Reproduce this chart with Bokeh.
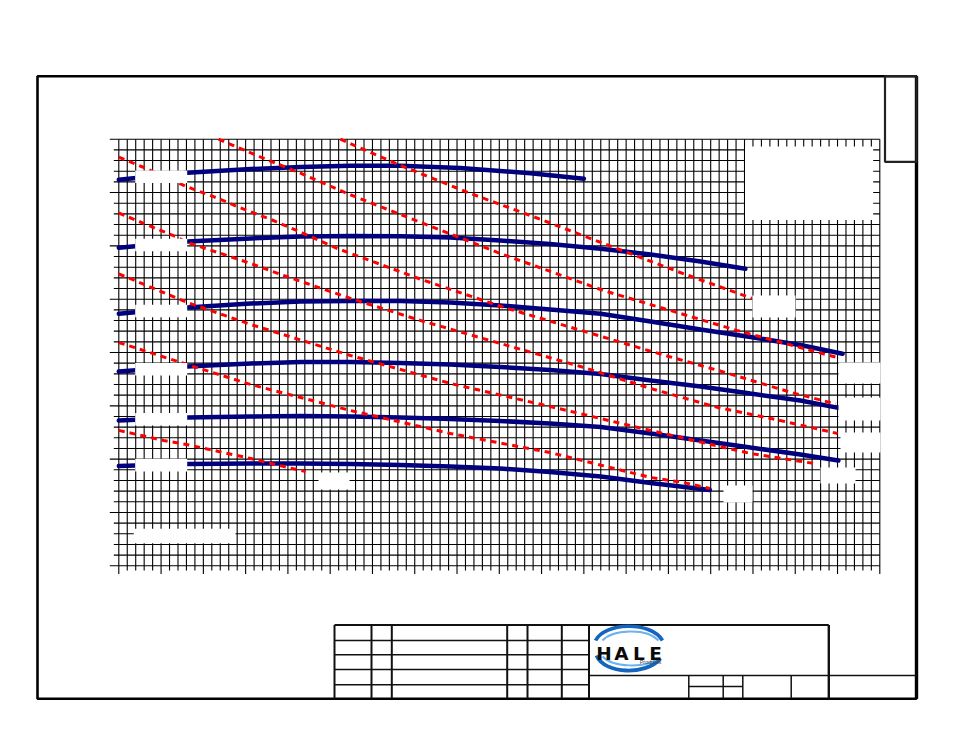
import numpy as np
from bokeh.plotting import figure
from bokeh.models import Range1d
from bokeh.embed import file_html
from bokeh.resources import INLINE
from bokeh.core.properties import value

# ---------------- data: flow (gpm) vs pressure (psi) ----------------
flow_ticks = list(range(0, 901, 10))
psi_ticks = list(range(0, 401, 10))

# pump curves (blue)
flow_p1 = [0, 81, 156, 215, 274, 333, 404, 487, 550]
psi_p1 = [362, 368.5, 372, 374, 375, 375, 373, 368, 363]

flow_p2 = [0, 81, 156, 215, 274, 333, 392, 451, 510, 570, 629, 688, 741]
psi_p2 = [298.2, 304.1, 307.0, 308.8, 309.2, 308.9, 307.8, 305.0, 301.7, 297.2, 291.9, 285.3, 278.5]

flow_p3 = [0, 81, 156, 215, 274, 333, 392, 451, 510, 570, 629, 688, 747, 806, 856]
psi_p3 = [236.3, 242.2, 245.9, 247.8, 248.3, 248.3, 246.9, 244.1, 240.3, 236.3, 229.1, 221.6, 214.5, 207.0, 198.8]

flow_p4 = [0, 81, 156, 215, 274, 333, 392, 451, 510, 570, 629, 688, 747, 806, 851]
psi_p4 = [182.2, 186.9, 189.7, 191.1, 191.1, 190.2, 188.7, 186.4, 183.6, 179.8, 173.7, 168.1, 161.5, 155.0, 148.1]

flow_p5 = [0, 81, 156, 215, 274, 333, 392, 451, 510, 570, 629, 688, 747, 806, 851]
psi_p5 = [136.2, 139.1, 140.0, 140.5, 140.0, 139.1, 137.6, 135.8, 133.4, 130.1, 124.0, 117.5, 110.9, 104.4, 98.7]

flow_p6 = [0, 81, 156, 215, 274, 333, 392, 451, 510, 570, 629, 699]
psi_p6 = [93.6, 95.5, 95.9, 95.9, 95.5, 94.5, 93.1, 91.2, 88.0, 83.7, 77.6, 71.1]

pump_flows = [flow_p1, flow_p2, flow_p3, flow_p4, flow_p5, flow_p6]
pump_psis = [psi_p1, psi_p2, psi_p3, psi_p4, psi_p5, psi_p6]

# power curves (red dashed)
flow_h1 = [262, 333, 416, 499, 570, 664, 749]
psi_h1 = [400, 375.4, 349.1, 324.8, 303.2, 275.0, 250.7]

flow_h2 = [118, 168, 215, 270, 357, 451, 573, 664, 731, 849]
psi_h2 = [400, 383.1, 368.1, 349.1, 322.0, 292.9, 258.2, 236.6, 220.7, 195.4]

flow_h3 = [0, 29, 79, 117, 142, 182, 218, 258, 357, 451, 546, 629, 720, 794, 848]
psi_h3 = [383.1, 373.7, 355.9, 344.6, 336.2, 324.0, 311.8, 297.7, 268.7, 243.4, 220.9, 201.2, 180.6, 162.8, 151.7]

flow_h4 = [0, 41, 67, 81, 117, 156, 195, 274, 357, 451, 546, 629, 708, 771, 850]
psi_h4 = [330.8, 317.2, 308.8, 303.2, 293.8, 283.5, 272.2, 250.7, 230.0, 208.5, 186.9, 166.3, 148.5, 138.2, 124.1]

flow_h5 = [0, 16, 81, 156, 274, 392, 510, 629, 680, 747, 826]
psi_h5 = [273.6, 268.5, 246.9, 226.3, 197.2, 171.0, 149.4, 126.9, 117.5, 105.3, 95.5]

flow_h6 = [0, 81, 156, 274, 392, 510, 629, 668, 699]
psi_h6 = [209.4, 188.7, 170.0, 145.6, 124.1, 106.2, 82.8, 78.1, 72.5]

flow_h7 = [0, 53, 80, 118, 156, 195, 221]
psi_h7 = [127.0, 117.5, 113.8, 107.2, 100.6, 93.1, 88.4]

power_flows = [flow_h1, flow_h2, flow_h3, flow_h4, flow_h5, flow_h6, flow_h7]
power_psis = [psi_h1, psi_h2, psi_h3, psi_h4, psi_h5, psi_h6, psi_h7]

# ---------------- layout (page geometry) ----------------
W, H = 930, 712
PAGE = 0
GX0, GX1 = 118.3, 879.3      # page px of flow 0 and 900
GY0, GY1 = 565.3, 138.7      # page px of psi 0 and 400
KX = (GX1 - GX0) / 900.0
KY = (GY0 - GY1) / 400.0


def gx(px):
    return (px - GX0) / KX


def gy(py):
    return (GY0 - py) / KY


x_start = gx(PAGE)
y_start = gy(PAGE + H)
p = figure(width=W, height=H, output_backend="svg", toolbar_location=None,
           x_range=Range1d(x_start, x_start + W / KX),
           y_range=Range1d(y_start, y_start + H / KY),
           x_axis_location=None, y_axis_location=None, min_border=0,
           outline_line_color=None, background_fill_color="white",
           border_fill_color="white")
p.grid.visible = False
p.title.visible = False

# grid with tick extensions
vx = flow_ticks
vy0 = [gy(573.5) if f % 50 == 0 else gy(570) for f in vx]
p.segment(x0=vx, y0=vy0, x1=vx, y1=[psi_ticks[-1]] * len(vx), line_color="black", line_width=1.1)
hy = psi_ticks
hx0 = [gx(109.3) if v % 50 == 0 else gx(113.3) for v in hy]
p.segment(x0=hx0, y0=hy, x1=[flow_ticks[-1]] * len(hy), y1=hy, line_color="black", line_width=1.1)

# pump curves
for fx, py_ in zip(pump_flows, pump_psis):
    p.line(fx, py_, line_color="#00007f", line_width=4.5, line_cap="round")

# power curves
for fx, py_ in zip(power_flows, power_psis):
    p.line(fx, py_, line_color="#ff0000", line_width=3, line_dash="6 5")

# label blanks at start of pump curves (derived from curve values)
lb_l, lb_r = gx(134.7), gx(186.7)
half_h = 6.3 / KY
for fx, py_ in zip(pump_flows, pump_psis):
    c = float(np.interp(35, fx, py_))
    p.quad(left=lb_l, right=lb_r, bottom=c - half_h, top=c + half_h,
           fill_color="white", line_color=None)

# label blanks at the end of power curves, legend blank, note blank
blanks = [(752, 795, 295, 317), (838, 880, 362, 383), (838, 880, 397, 420),
          (840, 880, 432, 452), (820, 855, 467, 483), (723, 752, 485, 502),
          (318, 349, 472, 489), (744.5, 872.7, 146, 219.5), (133.3, 235, 528.3, 542.7)]
for l, r, t, b in blanks:
    p.quad(left=gx(l), right=gx(r), top=gy(t), bottom=gy(b), fill_color="white", line_color=None)

# outer drawing frame
p.quad(left=gx(37), right=gx(916), top=gy(75.7), bottom=gy(698.3), fill_color=None,
       line_color="black", line_width=2.6)
p.segment(x0=[gx(916)], y0=[gy(75.7)], x1=[gx(916)], y1=[gy(698.3)], line_color="black", line_width=3.4)
p.quad(left=gx(884.5), right=gx(916), top=gy(75.7), bottom=gy(161.3), fill_color=None,
       line_color="#222222", line_width=2.2)

# title block
segs = []
segs.append((334, 624.5, 828.3, 624.5, 1.8))
segs.append((334, 624.5, 334, 698, 2))
for cx in [371, 391.3, 506.7, 527, 561.3, 588.5]:
    segs.append((cx, 624.5, cx, 698, 2))
for ry in [640, 654.3, 669, 684.3]:
    segs.append((334, ry, 588.5, ry, 1.5))
segs.append((828.3, 624.5, 828.3, 698, 2.4))
segs.append((588.5, 675, 916, 675, 1.5))
for cx in [688.3, 722.7, 742.3, 790.7]:
    segs.append((cx, 675, cx, 698, 1.5))
segs.append((688.3, 686, 742.3, 686, 1.3))
for x0, y0, x1, y1, w in segs:
    p.segment(x0=[gx(x0)], y0=[gy(y0)], x1=[gx(x1)], y1=[gy(y1)], line_color="#111111", line_width=w)

# logo swooshes
p.bezier(x0=[gx(595)], y0=[gy(640)], x1=[gx(662)], y1=[gy(640)], cx0=[gx(604)], cy0=[gy(622)],
         cx1=[gx(650)], cy1=[gy(620)], line_color="#1565c0", line_width=3.6)
p.bezier(x0=[gx(602)], y0=[gy(640)], x1=[gx(658)], y1=[gy(640)], cx0=[gx(612)], cy0=[gy(629)],
         cx1=[gx(646)], cy1=[gy(627)], line_color="#6cb2ec", line_width=2)
p.bezier(x0=[gx(596)], y0=[gy(655)], x1=[gx(660)], y1=[gy(658)], cx0=[gx(604)], cy0=[gy(674)],
         cx1=[gx(646)], cy1=[gy(675)], line_color="#1565c0", line_width=3.8)
p.bezier(x0=[gx(602)], y0=[gy(656)], x1=[gx(657)], y1=[gy(658)], cx0=[gx(612)], cy0=[gy(667)],
         cx1=[gx(645)], cy1=[gy(668)], line_color="#6cb2ec", line_width=2)
letters = ["H", "A", "L", "E"]
letter_x = [603.5, 621, 638.5, 655]
p.text(x=[gx(v) for v in letter_x], y=[gy(653)] * 4, text=letters,
       text_font=value("DejaVu Sans"), text_font_style="bold", text_font_size="18.5px",
       text_align="center", text_baseline="alphabetic", text_color="#0a0a0a")
p.text(x=[gx(650)], y=[gy(661.5)], text=["Products"], text_font=value("Liberation Sans"),
       text_font_size="5.5px", text_align="center", text_baseline="alphabetic", text_color="#444444")

open("out.html", "w").write(file_html(p, INLINE))
